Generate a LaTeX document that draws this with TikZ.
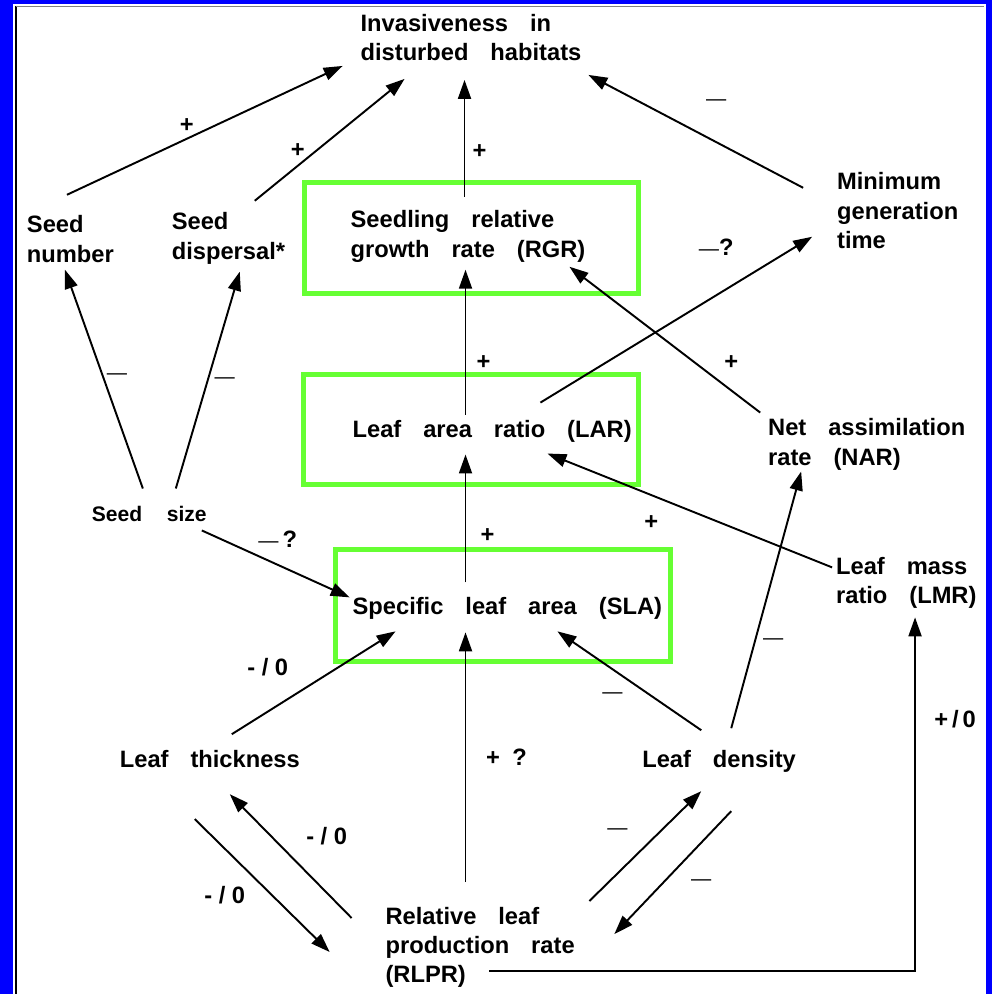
\documentclass[tikz,border=0pt]{standalone}
\usepackage{fontspec}
\setmainfont{Liberation Sans}
\usepackage{xcolor}
\usetikzlibrary{arrows.meta}
\definecolor{frameblue}{RGB}{0,0,255}
\definecolor{boxgreen}{RGB}{102,255,51}
\newcommand{\mns}{{\mdseries\fontsize{11.5}{12}\selectfont\textemdash}}

\begin{document}
\begin{tikzpicture}[
  x=0.02cm, y=-0.02cm,
  var/.style={anchor=north west,inner sep=0pt,outer sep=0pt,align=left,
    font={\fontsize{13.5}{16.7}\selectfont\bfseries\spaceskip=12.5pt\relax}},
  lab/.style={inner sep=0pt,font={\fontsize{13.5}{16}\selectfont\bfseries}},
  hbox/.style={draw=boxgreen,line width=0.1cm},
  arr/.style={-{Triangle[length=0.38cm,width=0.26cm]},line width=1.1pt},
]
  % frame
  \fill[frameblue] (0,0) rectangle (993,995);
  \fill[white] (13,4) rectangle (987,995);
  \draw[line width=1.2pt] (16,6) -- (16,995);
  \draw[gray,line width=0.8pt] (16,6.5) -- (985,6.5);

  % traits
  \node[var] (inv)      at (361,14)  {Invasiveness in\\disturbed habitats};
  \node[var] (seednum)  at (27,216)  {Seed\\number};
  \node[var] (seeddisp) at (172,213) {Seed\\dispersal*};
  \node[var] (rgr)      at (351,211) {Seedling relative\\growth rate (RGR)};
  \node[var] (mingen)   at (838,173) {Minimum\\generation\\time};
  \node[var] (lar)      at (353,421) {Leaf area ratio (LAR)};
  \node[var] (nar)      at (769,419) {Net assimilation\\rate (NAR)};
  \node[var,font={\fontsize{12}{14}\selectfont\bfseries\spaceskip=14pt\relax}]
                        (seedsize) at (92,507) {Seed size};
  \node[var] (sla)      at (353,598) {Specific leaf area (SLA)};
  \node[var] (lmr)      at (837,558) {Leaf mass\\ratio (LMR)};
  \node[var] (thick)    at (120,751) {Leaf thickness};
  \node[var] (dens)     at (643,751) {Leaf density};
  \node[var] (rlpr)     at (386,908) {Relative leaf\\production rate\\(RLPR)};

  % growth boxes
  \draw[hbox] (304.5,182.5) rectangle (639.5,293.5);
  \draw[hbox] (303.5,374.5) rectangle (639.5,485.5);
  \draw[hbox] (335.5,550.5) rectangle (671.5,662.5);

  \draw[arr] ([shift={(40,-21)}]seednum.north west)  -- ([shift={(-18,52)}]inv.north west);
  \draw[arr] ([shift={(83,-12)}]seeddisp.north west) -- ([shift={(44,65)}]inv.north west);
  \draw[arr] ([shift={(114,-14)}]rgr.north west)     -- ([shift={(104,66)}]inv.north west);
  \draw[arr] ([shift={(-34,15)}]mingen.north west)   -- ([shift={(228,61)}]inv.north west);
  \draw[arr] ([shift={(188,-18)}]lar.north west)     -- ([shift={(-25,64)}]mingen.north west);
  \draw[arr] ([shift={(-8,-6)}]nar.north west)       -- ([shift={(219,56)}]rgr.north west);
  \draw[arr] ([shift={(113,-6)}]lar.north west)      -- ([shift={(115,59)}]rgr.north west);
  \draw[arr] ([shift={(113,-15)}]sla.north west)     -- ([shift={(113,34)}]lar.north west);
  \draw[arr] ([shift={(51,-18)}]seedsize.north west) -- ([shift={(38,54)}]seednum.north west);
  \draw[arr] ([shift={(84,-18)}]seedsize.north west) -- ([shift={(68,59)}]seeddisp.north west);
  \draw[arr] ([shift={(110,24)}]seedsize.north west) -- ([shift={(-3,0)}]sla.north west);
  \draw[arr] ([shift={(-4,10)}]lmr.north west)       -- ([shift={(195,33)}]lar.north west);
  \draw[arr] ([shift={(112,-16)}]thick.north west)   -- ([shift={(43,34)}]sla.north west);
  \draw[arr] ([shift={(59,-20)}]dens.north west)     -- ([shift={(205,34)}]sla.north west);
  \draw[arr] ([shift={(89,-22)}]dens.north west)     -- ([shift={(33,53)}]nar.north west);
  \draw[arr] ([shift={(80,-25)}]rlpr.north west)     -- ([shift={(113,35)}]sla.north west);
  \draw[arr] ([shift={(-34,11)}]rlpr.north west)     -- ([shift={(110,44)}]thick.north west);
  \draw[arr] ([shift={(75,69)}]thick.north west)     -- ([shift={(-56,45)}]rlpr.north west);
  \draw[arr] ([shift={(204,-6)}]rlpr.north west)     -- ([shift={(59,41)}]dens.north west);
  \draw[arr] ([shift={(89,61)}]dens.north west)      -- ([shift={(229,27)}]rlpr.north west);
  \draw[arr] ([shift={(104,64)}]rlpr.north west)     -| ([shift={(79,60)}]lmr.north west);

  % signs
  \node[lab] (lnum)    at (187,126) {+};
  \node[lab] (ldisp)   at (298,151) {+};
  \node[lab] (lrgr)    at (480,152) {+};
  \node[lab] (lmin)    at (717,103) {\mns};
  \node[lab] (llarmin) at (717,247) {\mns?};
  \node[lab] (llar)    at (484,363) {+};
  \node[lab] (lnar)    at (732,363) {+};
  \node[lab] (lsnum)   at (117,377) {\mns};
  \node[lab] (lsdisp)  at (225,381) {\mns};
  \node[lab] (lssla)   at (278,540) {\mns\,?};
  \node[lab] (lsla)    at (488,536) {+};
  \node[lab] (llmr)    at (652,523) {+};
  \node[lab] (lthick)  at (268,668) {- / 0};
  \node[lab] (ldens)   at (613,696) {\mns};
  \node[lab] (ldnar)   at (774,642) {\mns};
  \node[lab] (lrsla)   at (507,758) {+\hspace{7pt}?};
  \node[lab] (lrlmr)   at (956,720) {+\,/\,0};
  \node[lab] (lrthick) at (327,837) {- / 0};
  \node[lab] (ltrlpr)  at (225,896) {- / 0};
  \node[lab] (lrdens)  at (618,832) {\mns};
  \node[lab] (ldrlpr)  at (702,884) {\mns};
\end{tikzpicture}
\end{document}
